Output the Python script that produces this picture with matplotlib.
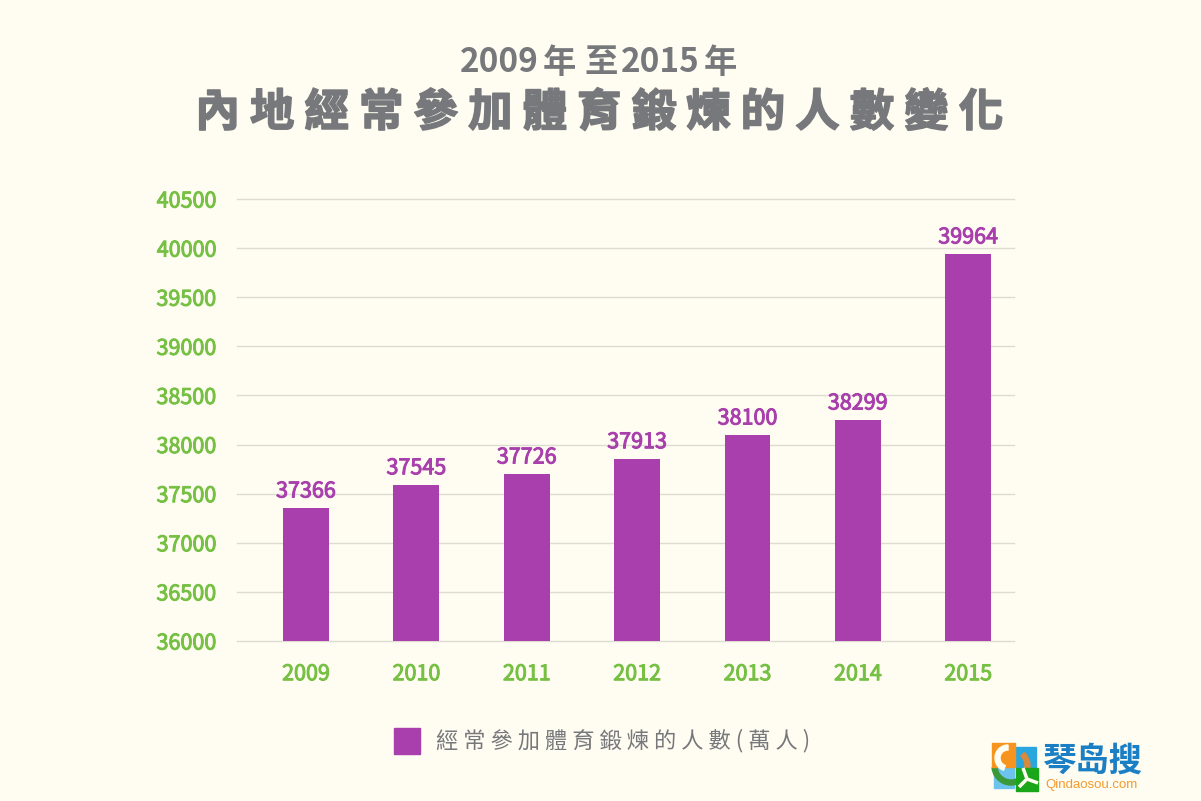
import matplotlib
matplotlib.use('Agg')
import matplotlib.pyplot as plt
import matplotlib.patheffects as pe
from matplotlib.patches import Rectangle, Wedge

plt.rcParams['font.family'] = ['Noto Sans CJK TC', 'DejaVu Sans']

years = ['2009', '2010', '2011', '2012', '2013', '2014', '2015']
# printed labels
people = [37366, 37545, 37726, 37913, 38100, 38299, 39964]
# bar tops as drawn in the picture, they don't sit exactly on the printed numbers
bar_tops = [37354, 37590, 37700, 37855, 38097, 38250, 39940]
yticks = [36000, 36500, 37000, 37500, 38000, 38500, 39000, 39500, 40000, 40500]

bg = '#fffdf2'
purple = '#a83fac'
green = '#76c043'
grey = '#77787b'

W, H = 1201, 801
fig = plt.figure(figsize=(W / 100, H / 100), dpi=100, facecolor=bg)


def thick(w, c=grey):
    return [pe.withStroke(linewidth=w, foreground=c)]


# plot area in pixels: x 237-1014, y 199-641
ax = fig.add_axes([237 / W, 1 - 641 / H, 777 / W, 442 / H], facecolor=bg)
ax.bar(range(7), bar_tops, width=0.415, color=purple, zorder=3)
ax.set_xlim(-0.625, 6.415)
ax.set_ylim(36000, 40500)
ax.set_yticks(yticks)
ax.set_xticks(range(7))
ax.set_xticklabels(years)
ax.grid(axis='y', color='#dcdcd2', linewidth=1, zorder=0)
for gl in ax.get_ygridlines():
    gl.set_clip_on(False)
ax.tick_params(length=0, labelcolor=green)
ax.tick_params(axis='x', pad=16)
ax.tick_params(axis='y', pad=15)
for s in ax.spines.values():
    s.set_visible(False)
for l in ax.get_xticklabels() + ax.get_yticklabels():
    l.set_fontsize(15.5)
    l.set_path_effects(thick(0.7, green))

for i, v in enumerate(people):
    ax.annotate(str(v), (i, bar_tops[i]), xytext=(0, 4), textcoords='offset points', ha='center', va='bottom',
                color=purple, fontsize=15.5, path_effects=thick(0.7, purple))

# first title line, pieces placed one by one for the tight spacing
for txt, xc in zip(['2009', '年', '至', '2015', '年'], [499, 559, 601, 660, 720]):
    fig.text(xc / W, 1 - 63 / H, txt, ha='center', va='center', color=grey, fontsize=24, fontweight='bold')
fig.text(600 / W, 1 - 113 / H, '內 地 經 常 參 加 體 育 鍛 煉 的 人 數 變 化', ha='center', va='center',
         color=grey, fontsize=32, fontweight='bold', path_effects=thick(1.2))

# legend
fig.add_artist(Rectangle((394 / W, 1 - 754 / H), 26 / W, 26 / H, transform=fig.transFigure, color=purple))
fig.text(436 / W, 1 - 741 / H, '經 常 參 加 體 育 鍛 煉 的 人 數 ( 萬 人 )', ha='left', va='center',
         color=grey, fontsize=16)

# logo
logo_ax = fig.add_axes([985 / W, 1 - 795 / H, 60 / W, 60 / H])
logo_ax.set_xlim(985, 1045)
logo_ax.set_ylim(795, 735)
logo_ax.axis('off')
logo_ax.add_patch(Rectangle((1015, 747), 21, 20, color='#2aa6df'))
logo_ax.add_patch(Rectangle((994, 767), 20, 21, color='#6cc4ee'))
logo_ax.add_patch(Wedge((1011, 766), 19, -45, 15, width=5, color='#d98a3a'))
logo_ax.add_patch(Wedge((1011, 766), 19, 60, 175, width=5, color='#3a9a3a'))
logo_ax.add_patch(Rectangle((992, 743), 23, 24, color='#f7941d'))
logo_ax.add_patch(Wedge((1008, 758), 13, 110, 270, width=5, color='#fffdf2'))
logo_ax.add_patch(Rectangle((1016, 768), 22, 23, color='#1aa61a'))
logo_ax.plot([1023, 1027, 1038], [768, 779, 783], color='#fffdf2', lw=2.5, solid_capstyle='butt')
logo_ax.plot([1019, 1027], [787, 779], color='#fffdf2', lw=2.5, solid_capstyle='butt')
fig.text(1092 / W, 1 - 761 / H, '琴岛搜', ha='center', va='center', color='#1a7fc4', fontsize=24, fontweight='bold')
fig.text(1091 / W, 1 - 785 / H, 'Qindaosou.com', ha='center', va='center', color='#f39a2d', fontsize=9.5,
         family=['Liberation Sans', 'DejaVu Sans'])

fig.savefig('out.png', dpi=100, facecolor=bg)
